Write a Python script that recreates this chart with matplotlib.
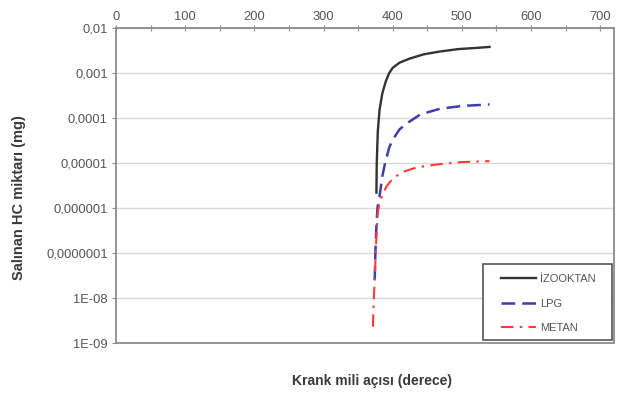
import matplotlib
matplotlib.use("Agg")
import matplotlib.pyplot as plt
from matplotlib.ticker import FixedLocator, MultipleLocator
from matplotlib.patches import Rectangle

plt.rcParams['font.family'] = ['Liberation Sans', 'DejaVu Sans']

izooktan_x = [376.5, 377, 378.5, 381, 385, 390, 395, 400, 410, 425, 445, 468, 495, 520, 540]
izooktan_y = [2.2e-6, 1e-5, 5e-5, 1.5e-4, 3.5e-4, 6.5e-4, 1.0e-3, 1.3e-3, 1.7e-3, 2.1e-3, 2.6e-3, 3.0e-3, 3.4e-3, 3.6e-3, 3.8e-3]

lpg_x = [374, 375, 376.5, 378, 381, 385, 389, 395, 400, 410, 420, 440, 468, 500, 540]
lpg_y = [2.5e-8, 1e-7, 4e-7, 1e-6, 1.8e-6, 5e-6, 1.0e-5, 2.2e-5, 3.3e-5, 5.6e-5, 7.5e-5, 1.2e-4, 1.6e-4, 1.85e-4, 2e-4]

metan_x = [371.5, 372.5, 374, 375.5, 377, 378.5, 381, 385, 391, 400, 414, 435, 464, 500, 540]
metan_y = [2.3e-9, 8e-9, 2.5e-8, 1e-7, 3.5e-7, 8e-7, 1.3e-6, 1.9e-6, 3e-6, 4.5e-6, 6.3e-6, 8e-6, 9.3e-6, 1.05e-5, 1.1e-5]

y_ticks = [1e-2, 1e-3, 1e-4, 1e-5, 1e-6, 1e-7, 1e-8, 1e-9]
y_labels = ["0,01", "0,001", "0,0001", "0,00001", "0,000001", "0,0000001", "1E-08", "1E-09"]
x_ticks = [0, 100, 200, 300, 400, 500, 600, 700]

fig = plt.figure(figsize=(6.23, 3.96), dpi=100)
ax = fig.add_axes([116/623, 1-343/396, (614-116)/623, (343-28)/396])

ax.plot(izooktan_x, izooktan_y, color='#333333', lw=1.7, ls='-', label='İZOOKTAN')
ax.plot(lpg_x, lpg_y, color='#3b3fb0', lw=1.8, ls=(0, (5.5, 2.8)), label='LPG')
ax.plot(metan_x, metan_y, color='#ff3a3a', lw=1.5, ls=(0, (6, 3, 1.2, 3)), label='METAN')

ax.set_yscale('log')
ax.set_ylim(1e-9, 1e-2)
ax.set_xlim(0, 720)
ax.set_yticks(y_ticks)
ax.set_yticklabels(y_labels)
ax.yaxis.set_minor_locator(FixedLocator([]))
ax.xaxis.tick_top()
ax.set_xticks(x_ticks)
ax.set_xticklabels([str(v) for v in x_ticks])
ax.xaxis.set_minor_locator(MultipleLocator(50))

ax.grid(axis='y', which='major', color='#d9d9d9', lw=1.0)
ax.set_axisbelow(True)
for s in ax.spines.values():
    s.set_color('#8c8c8c')
    s.set_linewidth(1.3)

ax.tick_params(axis='y', which='major', direction='out', length=3, width=0.8, color='#8c8c8c',
               labelsize=9.3, labelcolor='#555555', pad=3)
ax.tick_params(axis='x', which='both', direction='inout', length=5, width=0.8, color='#8c8c8c',
               labelsize=9.3, labelcolor='#555555', pad=1, top=True, bottom=False)

fig.text(19/623, 1-198/396, 'Salınan HC miktarı (mg)', rotation=90, ha='center', va='center',
         fontsize=10.5, fontweight='bold', color='#3a3a3a')
fig.text(372/623, 1-381/396, 'Krank mili açısı (derece)', ha='center', va='center',
         fontsize=10, fontweight='bold', color='#3a3a3a')

frame = Rectangle((0.737, 0.0095), 0.259, 0.241, transform=ax.transAxes,
                  facecolor='white', edgecolor='#555555', lw=1.2, zorder=4)
ax.add_patch(frame)

leg = ax.legend(loc='upper left', bbox_to_anchor=(0.773, 0.218),
                fontsize=8, handlelength=3.15, handletextpad=0.36, labelspacing=1.28,
                borderpad=0, frameon=False, borderaxespad=0)
for t in leg.get_texts():
    t.set_color('#555555')
leg.set_zorder(5)

fig.savefig('out.png', dpi=100)
